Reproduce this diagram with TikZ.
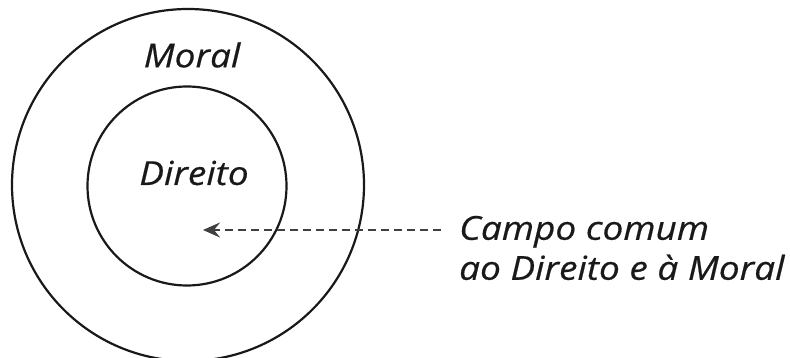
\documentclass[tikz,border=0pt]{standalone}
\usepackage{fontspec}
\setmainfont{Open Sans}
\newfontfamily\lblfont[FakeStretch=1.12,FakeBold=0.5]{Open Sans}
\usetikzlibrary{arrows.meta}
\begin{document}
\begin{tikzpicture}[x=1pt,y=-1pt,
  ring/.style={draw=black!90,line width=2.2pt},
  lbl/.style={font=\lblfont\fontsize{33}{40}\selectfont\itshape,text=black!90,inner sep=0pt},
  pointer/.style={draw=black!75,line width=2.2pt,dash pattern=on 8pt off 5pt,
    -{Stealth[length=17pt,width=15pt,inset=6pt]}}]
\useasboundingbox (0,0) rectangle (790,358);
\node[ring,circle,minimum size=352pt,inner sep=0pt] (moralc) at (188,185) {};
\node[ring,circle,minimum size=199pt,inner sep=0pt] (direitoc) at (187,186) {};
\node[lbl] (moral) at (192,55) {Moral};
\node[lbl] (direito) at (194,173) {Direito};
\node[lbl,anchor=west,align=left] (campo) at (459,248) {Campo comum\\ao Direito e à Moral};
\coordinate (tip) at (203,230);
\coordinate (start) at (441,230);
\draw[pointer] (start) -- (tip);
\end{tikzpicture}
\end{document}
